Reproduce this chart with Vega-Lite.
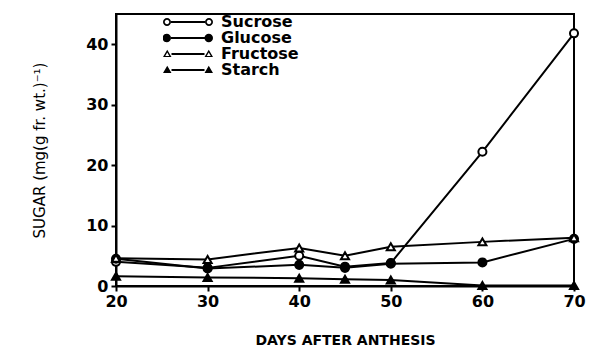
{
  "$schema": "https://vega.github.io/schema/vega-lite/v6.json",
  "width": 458,
  "height": 272,
  "autosize": "none",
  "padding": {"left": 116, "top": 14, "right": 15, "bottom": 68},
  "background": "white",
  "config": {
    "view": {"stroke": "black", "strokeWidth": 2},
    "font": "DejaVu Sans",
    "axis": {
      "domainColor": "black", "domainWidth": 2, "tickColor": "black", "tickWidth": 2, "tickSize": 5,
      "labelFontSize": 16, "labelFontWeight": "bold", "labelColor": "black", "labelFont": "DejaVu Sans",
      "titleFontSize": 14, "titleFontWeight": "bold", "titleColor": "black", "titleFont": "DejaVu Sans",
      "grid": false, "labelFlush": false
    }
  },
  "data": {"values": [
    {"day": 20, "sugar": "Sucrose", "value": 4.0},
    {"day": 30, "sugar": "Sucrose", "value": 3.0},
    {"day": 40, "sugar": "Sucrose", "value": 5.0},
    {"day": 45, "sugar": "Sucrose", "value": 3.2},
    {"day": 50, "sugar": "Sucrose", "value": 3.8},
    {"day": 60, "sugar": "Sucrose", "value": 22.2},
    {"day": 70, "sugar": "Sucrose", "value": 41.8},
    {"day": 20, "sugar": "Glucose", "value": 4.5},
    {"day": 30, "sugar": "Glucose", "value": 2.9},
    {"day": 40, "sugar": "Glucose", "value": 3.5},
    {"day": 45, "sugar": "Glucose", "value": 3.0},
    {"day": 50, "sugar": "Glucose", "value": 3.7},
    {"day": 60, "sugar": "Glucose", "value": 3.9},
    {"day": 70, "sugar": "Glucose", "value": 7.8},
    {"day": 20, "sugar": "Fructose", "value": 4.6},
    {"day": 30, "sugar": "Fructose", "value": 4.4},
    {"day": 40, "sugar": "Fructose", "value": 6.3},
    {"day": 45, "sugar": "Fructose", "value": 5.0},
    {"day": 50, "sugar": "Fructose", "value": 6.5},
    {"day": 60, "sugar": "Fructose", "value": 7.3},
    {"day": 70, "sugar": "Fructose", "value": 8.0},
    {"day": 20, "sugar": "Starch", "value": 1.6},
    {"day": 30, "sugar": "Starch", "value": 1.4},
    {"day": 40, "sugar": "Starch", "value": 1.3},
    {"day": 45, "sugar": "Starch", "value": 1.1},
    {"day": 50, "sugar": "Starch", "value": 1.0},
    {"day": 60, "sugar": "Starch", "value": 0.1},
    {"day": 70, "sugar": "Starch", "value": 0.1}
  ]},
  "encoding": {
    "x": {"field": "day", "type": "quantitative", "scale": {"domain": [20, 70], "nice": false, "zero": false},
      "axis": {"values": [20, 30, 40, 50, 60, 70], "title": "DAYS AFTER ANTHESIS", "titlePadding": 24, "labelPadding": 2}},
    "y": {"field": "value", "type": "quantitative", "scale": {"domain": [0, 45], "nice": false},
      "axis": {"values": [0, 10, 20, 30, 40], "title": "SUGAR (mg(g fr. wt.)⁻¹)", "titlePadding": 38, "titleFontWeight": "normal", "titleFontSize": 15, "labelPadding": 3}}
  },
  "layer": [
    {"mark": {"type": "line", "color": "black", "strokeWidth": 2},
     "encoding": {"detail": {"field": "sugar"}}},
    {"mark": {"type": "point", "filled": true, "opacity": 1, "stroke": "black", "strokeWidth": 2, "size": 65},
     "encoding": {
       "shape": {"field": "sugar", "type": "nominal", "legend": null,
         "scale": {"domain": ["Sucrose", "Glucose", "Fructose", "Starch"], "range": ["circle", "circle", "triangle-up", "triangle-up"]}},
       "fill": {"field": "sugar", "type": "nominal", "legend": null,
         "scale": {"domain": ["Sucrose", "Glucose", "Fructose", "Starch"], "range": ["white", "black", "white", "black"]}}
     }},
    {"transform": [{"filter": "datum.day < 0"}],
     "mark": {"type": "point", "filled": true, "opacity": 1, "color": "black", "strokeWidth": 0, "size": 2500},
     "encoding": {
       "shape": {"field": "sugar", "type": "nominal",
         "scale": {"domain": ["Sucrose", "Glucose", "Fructose", "Starch"],
           "range": [
             "M-0.68,-0.04L0.68,-0.04L0.68,0.04L-0.68,0.04ZM-0.68,0A0.16,0.16,0,1,1,-1,0A0.16,0.16,0,1,1,-0.68,0ZM-0.75,0A0.09,0.09,0,1,0,-0.93,0A0.09,0.09,0,1,0,-0.75,0ZM1,0A0.16,0.16,0,1,1,0.68,0A0.16,0.16,0,1,1,1,0ZM0.93,0A0.09,0.09,0,1,0,0.75,0A0.09,0.09,0,1,0,0.93,0Z",
             "M-0.68,-0.04L0.68,-0.04L0.68,0.04L-0.68,0.04ZM-0.68,0A0.17,0.17,0,1,1,-1.02,0A0.17,0.17,0,1,1,-0.68,0ZM1,0A0.17,0.17,0,1,1,0.66,0A0.17,0.17,0,1,1,1,0Z",
             "M-0.66,-0.04L0.66,-0.04L0.66,0.04L-0.66,0.04ZM-1,0.12L-0.66,0.12L-0.83,-0.17ZM-0.91,0.08L-0.83,-0.06L-0.75,0.08ZM0.66,0.12L1,0.12L0.83,-0.17ZM0.75,0.08L0.83,-0.06L0.91,0.08Z",
             "M-0.66,-0.04L0.66,-0.04L0.66,0.04L-0.66,0.04ZM-1,0.12L-0.66,0.12L-0.83,-0.17ZM0.66,0.12L1,0.12L0.83,-0.17Z"
           ]},
         "legend": {
           "orient": "none", "legendX": 47, "legendY": 0, "title": null, "padding": 0,
           "symbolSize": 2500, "clipHeight": 16, "rowPadding": 0, "labelOffset": 8,
           "labelFontSize": 16, "labelFontWeight": "bold", "labelColor": "black", "labelFont": "DejaVu Sans",
           "symbolFillColor": "black", "symbolStrokeWidth": 0
         }}
     }}
  ],
  "resolve": {"scale": {"shape": "independent"}, "legend": {"shape": "independent"}}
}
